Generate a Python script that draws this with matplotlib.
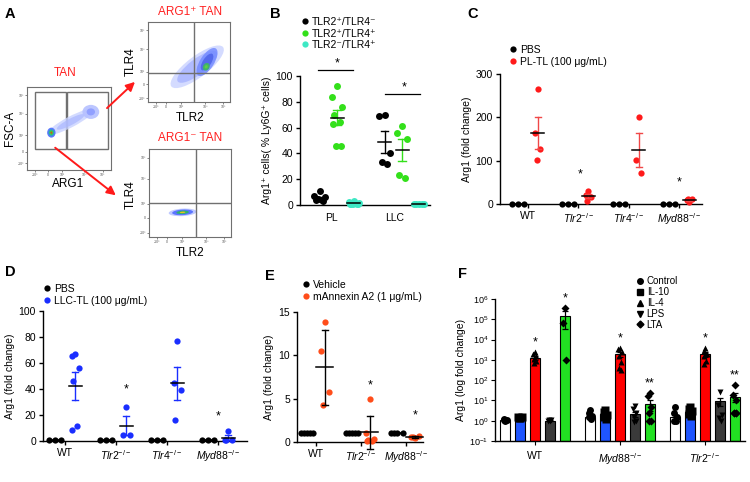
import numpy as np
import matplotlib.pyplot as plt
from matplotlib.patches import Ellipse, FancyArrowPatch, Rectangle
from matplotlib.lines import Line2D
from matplotlib.ticker import NullLocator

plt.rcParams['font.family'] = ['Liberation Sans', 'DejaVu Sans']
plt.rcParams['mathtext.fontset'] = 'custom'
plt.rcParams['mathtext.rm'] = 'Liberation Sans'
plt.rcParams['mathtext.it'] = 'Liberation Sans:italic'
plt.rcParams['mathtext.bf'] = 'Liberation Sans:bold'
plt.rcParams['axes.linewidth'] = 1.0
plt.rcParams['xtick.labelsize'] = 7.5
plt.rcParams['ytick.labelsize'] = 7.5

# ---------------- data ----------------
# B: Arg1+ cells (% Ly6G+ cells)
b_groups = ['PL', 'LLC']
b_series = ['TLR2⁺/TLR4⁻', 'TLR2⁺/TLR4⁺', 'TLR2⁻/TLR4⁺']
b_pl = [[11, 7, 6, 5, 4, 4, 3, 5],
        [92, 84, 76, 70, 64, 63, 46, 46],
        [3, 2, 1.5, 1, 0.5, 1, 0.5, 0.8]]
b_llc = [[70, 69, 40, 33, 32],
         [61, 56, 51, 23, 21],
         [1, 1, 0.8, 0.6, 0.5]]

ko_labels = ['WT', r'$\mathit{Tlr2}^{-/-}$', r'$\mathit{Tlr4}^{-/-}$', r'$\mathit{Myd88}^{-/-}$']

# C: PBS vs PL-TL
c_pbs = [[1, 1, 1], [1, 1, 1], [1, 1, 1], [1, 1, 1]]
c_pltl = [[265, 163, 127, 101], [31, 21, 17, 7], [200, 101, 71], [5, 9, 11, 11]]

# D: PBS vs LLC-TL
d_pbs = [[1, 1, 1], [1, 1, 1], [1, 1, 1], [1, 1, 1]]
d_llctl = [[67, 65.5, 56, 46, 11.5, 8.5], [26, 5, 4.5], [77, 45, 39, 16.5], [8, 1, 1, 0.5]]

# E: Vehicle vs mAnnexin A2 (mean +/- SD)
e_labels = ['WT', r'$\mathit{Tlr2}^{-/-}$', r'$\mathit{Myd88}^{-/-}$']
e_veh = [[1, 1, 1, 1, 1], [1, 1, 1, 1, 1], [1, 1, 1, 1]]
e_anx = [[13.8, 10.5, 5.8, 4.3], [5, 1, 0.4, 0.2, 0.1, 0.1], [0.5, 0.6, 0.7, 0.6]]

# F: Arg1 log fold change
f_groups = ['WT', r'$\mathit{Myd88}^{-/-}$', r'$\mathit{Tlr2}^{-/-}$']
f_treat = ['Control', 'IL-10', 'IL-4', 'LPS', 'LTA']
f_means = [[1.1, 1.8, 1300, 1.0, 1.45e5],
           [1.5, 2.2, 1950, 2.1, 6.5],
           [1.5, 2.6, 1900, 9.0, 15]]
f_errs = [[0.05, 0.3, 300, 0.05, 1.1e5],
          [0.3, 0.5, 600, 0.5, 3.5],
          [0.5, 0.6, 500, 3.5, 7]]
f_points = [[[1.0, 1.05, 1.1, 1.15], [1.3, 1.45, 1.6, 1.4], [2400, 1900, 1500, 1100, 900, 700],
             [0.95, 1.0, 1.05, 1.1], [3.6e5, 6.5e4, 1000]],
            [[3.3, 2.3, 1.8, 1.5, 1.2], [3.5, 2.8, 2.0, 1.5, 1.2], [4000, 3500, 2500, 1500, 800, 400, 300],
             [5.5, 4.0, 2.5, 1.5, 1.0, 0.9], [22, 16, 5, 2.5, 1.0, 1.0]],
            [[4.5, 2.5, 1.5, 1.0, 1.0], [4.5, 3.8, 3.0, 2.2, 1.8], [4000, 2800, 2000, 1500, 900, 600],
             [26, 6, 1.9, 1.3, 1.0], [58, 18, 10, 2.4, 2.4, 2.4, 2.4]]]
f_stars = [['', '', '*', '', '*'], ['', '', '*', '', '**'], ['', '', '*', '', '**']]

W, H = 750, 482
fig = plt.figure(figsize=(7.5, 4.82), dpi=100)


def px_axes(l, t, r, b):
    return fig.add_axes([l / W, 1 - b / H, (r - l) / W, (b - t) / H])


def ftext(x, y, s, **kw):
    fig.text(x / W, 1 - y / H, s, **kw)


PATTERN = np.array([0, -1, 1, -0.5, 0.5, -0.75, 0.75, -0.25, 0.25])


def dot_group(ax, xc, vals, color, spread=0.08, ms=4.5, mean_w=0.13, cap_w=0.06,
              use_sd=False, ecolor=None):
    vals = np.asarray(vals, float)
    n = len(vals)
    offs = spread * PATTERN[:n]
    ax.plot(xc + offs, vals, 'o', color=color, ms=ms, mec='none', zorder=3, clip_on=False)
    m = vals.mean()
    e = vals.std(ddof=1) if use_sd else vals.std(ddof=1) / np.sqrt(n)
    ec = ecolor or color
    ax.plot([xc, xc], [m - e, m + e], color=ec, lw=1, zorder=4, clip_on=False)
    for yy in (m - e, m + e):
        ax.plot([xc - cap_w, xc + cap_w], [yy, yy], color=ec, lw=1, zorder=4, clip_on=False)
    ax.plot([xc - mean_w, xc + mean_w], [m, m], color='k', lw=1.1, zorder=5, clip_on=False)


def style_dot_axes(ax):
    for s in ('top', 'right'):
        ax.spines[s].set_visible(False)
    ax.tick_params(length=3, width=1, pad=2)


def dot_legend(x, y, labels, colors, fs=7.5):
    handles = [Line2D([], [], marker='o', ls='none', color=c, ms=4.5, mec='none') for c in colors]
    fig.legend(handles, labels, loc='upper left', bbox_to_anchor=(x / W, 1 - y / H),
               frameon=False, fontsize=fs, handlelength=0.6, handletextpad=0.35,
               labelspacing=0.15, borderpad=0, borderaxespad=0)


# ---------------- A: flow plots ----------------
def flow_axes(l, t, r, b, xt, yt):
    ax = px_axes(l, t, r, b)
    ax.set_xlim(0, 1)
    ax.set_ylim(0, 1)
    for s in ax.spines.values():
        s.set_color('#707070')
        s.set_linewidth(0.8)
    ax.set_xticks(xt)
    ax.set_yticks(yt)
    ax.set_xticklabels(['-10³', '0', '10³', '10⁴', '10⁵'][:len(xt)], fontsize=2.5, color='#555')
    ax.set_yticklabels(['-10³', '0', '10³', '10⁴', '10⁵'][:len(yt)], fontsize=2.5, color='#555')
    ax.tick_params(length=1.2, width=0.5, pad=0.8, colors='#555')
    return ax


def blob(ax, cx, cy, w, h, ang, layers):
    for (f, col, a) in layers:
        ax.add_patch(Ellipse((cx, cy), w * f, h * f, angle=ang, color=col, alpha=a, lw=0))


ticks5 = [0.1, 0.25, 0.42, 0.68, 0.9]
axA = flow_axes(27, 87, 111, 170, ticks5, [0.08, 0.22, 0.42, 0.68, 0.9])
axA.add_patch(Rectangle((0.095, 0.25), 0.365, 0.69, fill=False, ec='#707070', lw=1))
axA.add_patch(Rectangle((0.48, 0.25), 0.48, 0.69, fill=False, ec='#707070', lw=1))
blob(axA, 0.52, 0.58, 0.62, 0.13, 28, [(1, '#c9d2ff', 0.8), (0.6, '#aab6ff', 0.7)])
blob(axA, 0.76, 0.7, 0.2, 0.17, 0, [(1, '#b5c0ff', 0.9), (0.5, '#8898ff', 0.8)])
blob(axA, 0.29, 0.45, 0.1, 0.12, 0, [(1, '#5c78ff', 1), (0.7, '#30a0c0', 1), (0.45, '#40d040', 1),
                                    (0.2, '#e04020', 1)])

axP = flow_axes(148, 22, 230, 102, [0.1, 0.22, 0.4, 0.7, 0.92], [0.05, 0.22, 0.38, 0.66, 0.9])
axP.axvline(0.56, color='#707070', lw=1)
axP.axhline(0.36, color='#707070', lw=1)
blob(axP, 0.6, 0.44, 0.8, 0.26, 38, [(1, '#d0d8ff', 0.9), (0.75, '#a8b4ff', 0.8)])
blob(axP, 0.72, 0.5, 0.4, 0.17, 58, [(1, '#7088ff', 0.8), (0.6, '#4a60e8', 0.8)])
blob(axP, 0.71, 0.44, 0.1, 0.08, 60, [(1, '#40b070', 1), (0.45, '#60d040', 1)])

axN = flow_axes(149, 149, 231, 237, [0.1, 0.22, 0.4, 0.7, 0.92], [0.05, 0.22, 0.38, 0.66, 0.9])
axN.axvline(0.57, color='#707070', lw=1)
axN.axhline(0.39, color='#707070', lw=1)
blob(axN, 0.41, 0.28, 0.34, 0.085, 3, [(1, '#b8c4ff', 0.9), (0.75, '#5a74ff', 1),
                                     (0.45, '#30b070', 1), (0.2, '#e8c020', 1)])

ftext(65, 73, 'TAN', color='#ff2020', fontsize=8.5, ha='center', va='center')
ftext(10, 128, 'FSC-A', fontsize=8.5, rotation=90, ha='center', va='center')
ftext(68, 184, 'ARG1', fontsize=8.5, ha='center', va='center')
ftext(190, 12, 'ARG1⁺ TAN', color='#ff2020', fontsize=8.5, ha='center', va='center')
ftext(131, 62, 'TLR4', fontsize=8.5, rotation=90, ha='center', va='center')
ftext(190, 118, 'TLR2', fontsize=8.5, ha='center', va='center')
ftext(190, 138, 'ARG1⁻ TAN', color='#ff2020', fontsize=8.5, ha='center', va='center')
ftext(131, 195, 'TLR4', fontsize=8.5, rotation=90, ha='center', va='center')
ftext(190, 253, 'TLR2', fontsize=8.5, ha='center', va='center')

for (x0, y0, x1, y1) in [(105, 110, 137, 80), (53, 146, 118, 197)]:
    fig.patches.append(FancyArrowPatch((x0 / W, 1 - y0 / H), (x1 / W, 1 - y1 / H),
                                       transform=fig.transFigure, arrowstyle='-|>',
                                       mutation_scale=13, color='#ff1a1a', lw=1.4))

# ---------------- B ----------------
b_colors = ['#000000', '#33e01a', '#3ee8c4']
axB = px_axes(300, 76, 430, 205)
style_dot_axes(axB)
b_off = [-0.27, 0, 0.26]
for gi, data in enumerate([b_pl, b_llc]):
    for si, vals in enumerate(data):
        dot_group(axB, gi + 1 + b_off[si], vals, b_colors[si], spread=0.08, ms=5, mean_w=0.1, cap_w=0.06)
axB.set_xlim(0.43, 2.43)
axB.set_ylim(0, 100)
axB.set_yticks([0, 20, 40, 60, 80, 100])
axB.set_xticks([0.92, 1.88])
axB.set_xticklabels(b_groups)
axB.tick_params(axis='x', length=0, pad=6)
axB.set_ylabel('Arg1⁺ cells( % Ly6G⁺ cells)', fontsize=7.5, labelpad=3)
for (xa, xb, yy) in [(0.71, 1.25, 104.5), (1.74, 2.28, 86)]:
    axB.plot([xa, xb], [yy, yy], color='k', lw=0.9, clip_on=False)
    axB.text((xa + xb) / 2 + 0.02, yy + 0.5, '*', ha='center', va='bottom', fontsize=9)
dot_legend(302, 17, b_series, b_colors)

# ---------------- C ----------------
axC = px_axes(500, 74, 702, 204)
style_dot_axes(axC)
for i in range(4):
    dot_group(axC, i - 0.2, c_pbs[i], 'k', spread=0.12, ms=4.5)
    dot_group(axC, i + 0.2, c_pltl[i], '#ff1a1a', spread=0.05, ms=4.5, ecolor='#f04848')
axC.set_xlim(-0.55, 3.45)
axC.set_ylim(0, 300)
axC.set_yticks([0, 100, 200, 300])
axC.set_xticks(range(4))
axC.set_xticklabels(ko_labels)
axC.set_ylabel('Arg1 (fold change)', fontsize=7.5, labelpad=3)
axC.text(1.03, 68, '*', ha='center', va='center', fontsize=9)
axC.text(3.0, 50, '*', ha='center', va='center', fontsize=9)
dot_legend(510, 45, ['PBS', 'PL-TL (100 μg/mL)'], ['k', '#ff1a1a'])

# ---------------- D ----------------
axD = px_axes(43, 311, 247, 441)
style_dot_axes(axD)
for i in range(4):
    dot_group(axD, i - 0.2, d_pbs[i], 'k', spread=0.12, ms=4.5)
    dot_group(axD, i + 0.2, d_llctl[i], '#1a2eff', spread=0.07, ms=4.5)
axD.set_xlim(-0.43, 3.57)
axD.set_ylim(0, 100)
axD.set_yticks([0, 20, 40, 60, 80, 100])
axD.set_xticks(range(4))
axD.set_xticklabels(ko_labels)
axD.set_ylabel('Arg1 (fold change)', fontsize=7.5, labelpad=3)
axD.text(1.2, 40, '*', ha='center', va='center', fontsize=9)
axD.text(3.0, 19, '*', ha='center', va='center', fontsize=9)
dot_legend(44, 284, ['PBS', 'LLC-TL (100 μg/mL)'], ['k', '#1a2eff'])

# ---------------- E ----------------
axE = px_axes(297, 312, 423, 442)
style_dot_axes(axE)
for i in range(3):
    dot_group(axE, i - 0.2, e_veh[i], 'k', spread=0.14, ms=4.5, use_sd=True)
    dot_group(axE, i + 0.2, e_anx[i], '#ff4d1a', spread=0.08, ms=4.5, use_sd=True,
              ecolor='k', mean_w=0.19)
axE.set_xlim(-0.42, 2.38)
axE.set_ylim(0, 15)
axE.set_yticks([0, 5, 10, 15])
axE.set_xticks(range(3))
axE.set_xticklabels(e_labels)
axE.set_ylabel('Arg1 (fold change)', fontsize=7.5, labelpad=3)
axE.text(1.2, 6.5, '*', ha='center', va='center', fontsize=9)
axE.text(2.2, 3.1, '*', ha='center', va='center', fontsize=9)
dot_legend(303, 280, ['Vehicle', 'mAnnexin A2 (1 μg/mL)'], ['k', '#ff4d1a'])

# ---------------- F ----------------
f_colors = ['#ffffff', '#1f55ff', '#ff0000', '#3a3a3a', '#22e022']
f_markers = ['o', 's', '^', 'v', 'D']
f_ms = [5, 5.5, 5, 5, 4]
axF = px_axes(495, 299, 745, 441)
for s in ('top', 'right'):
    axF.spines[s].set_visible(False)
axF.set_yscale('log')
axF.set_ylim(0.1, 1e6)
step = 0.176
for gi in range(3):
    for ti in range(5):
        x = gi + (ti - 2) * step
        m = f_means[gi][ti]
        axF.bar(x, m - 0.1, bottom=0.1, width=0.118, color=f_colors[ti], ec='k', lw=0.8, zorder=2)
        pts = np.asarray(f_points[gi][ti])
        offs = 0.018 * PATTERN[:len(pts)]
        axF.plot(x + offs, pts, f_markers[ti], color='k', ms=f_ms[ti], mec='none', zorder=3,
                 clip_on=False)
        axF.errorbar(x, m, yerr=[[min(f_errs[gi][ti], m - 0.11)], [f_errs[gi][ti]]], fmt='none',
                     ecolor='k', elinewidth=0.9, capsize=2.5, capthick=0.9, zorder=4)
        if f_stars[gi][ti]:
            axF.text(x, pts.max() * 1.5, f_stars[gi][ti], ha='center', va='bottom', fontsize=9)
axF.set_xlim(-0.47, 2.47)
axF.set_yticks([10.0 ** k for k in range(-1, 7)])
axF.yaxis.set_minor_locator(NullLocator())
axF.set_xticks(range(3))
axF.set_xticklabels(f_groups)
axF.tick_params(axis='y', labelsize=6.5, length=3, pad=2)
axF.tick_params(axis='x', length=3, pad=4)
axF.set_ylabel('Arg1 (log fold change)', fontsize=7.5, labelpad=2)
f_handles = [Line2D([], [], marker=mk, ls='none', color='k', ms=4 if mk != 'D' else 3.5)
             for mk in f_markers]
fig.legend(f_handles, f_treat, loc='upper left', bbox_to_anchor=(637 / W, 1 - 276 / H),
           frameon=False, fontsize=7, handlelength=0.6, handletextpad=0.4,
           labelspacing=0.1, borderpad=0, borderaxespad=0)

# panel letters
for (x, y, s) in [(5, 14, 'A'), (270, 14, 'B'), (467, 14, 'C'), (5, 272, 'D'), (265, 276, 'E'),
                  (458, 274, 'F')]:
    ftext(x, y, s, fontsize=10.5, fontweight='bold', ha='left', va='center')

fig.savefig('out.png', dpi=100)
